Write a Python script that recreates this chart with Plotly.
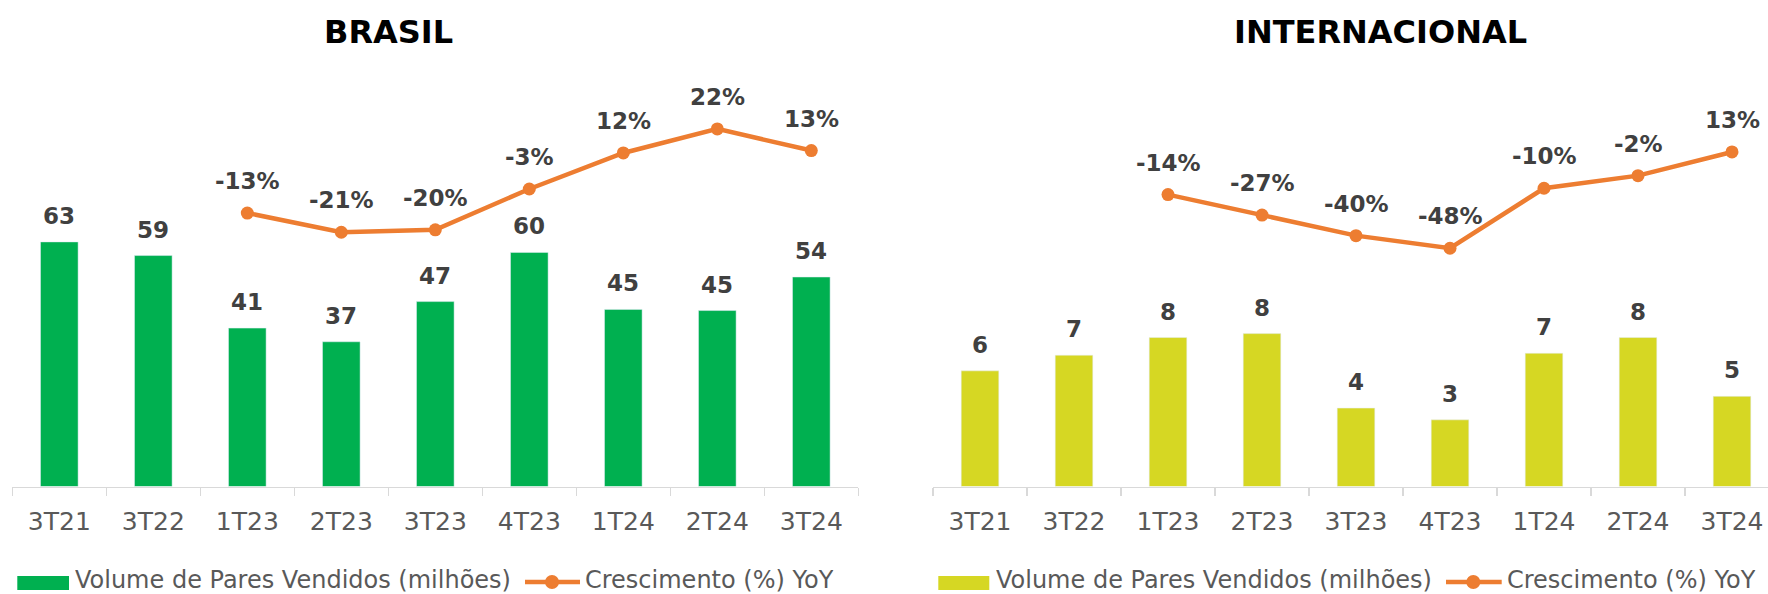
import plotly.graph_objects as go

# ---- data ----
categories = ["3T21", "3T22", "1T23", "2T23", "3T23", "4T23", "1T24", "2T24", "3T24"]
brasil_volume = [62.7, 59.2, 40.6, 37.1, 47.4, 60.0, 45.4, 45.1, 53.7]
brasil_growth = [None, None, -13, -21, -20, -3, 12, 22, 13]
intl_volume = [5.9, 6.7, 7.6, 7.8, 4.0, 3.4, 6.8, 7.6, 4.6]
intl_growth = [None, None, -14, -27, -40, -48, -10, -2, 13]
titles = ["BRASIL", "INTERNACIONAL"]
legend_bar = "Volume de Pares Vendidos (milhões)"
legend_line = "Crescimento (%) YoY"

# ---- styles ----
W, H = 1768, 594
FONT = "Verdana, DejaVu Sans, sans-serif"
GREEN = "#00B050"
LIME = "#D6D723"
ORANGE = "#ED7D31"
LABEL = "#404040"
TICK = "#595959"
AXIS = "#D9D9D9"

def px(x):
    return x / W

def py(y):
    return 1 - y / H

y_dom = [py(486.5), py(80)]

fig = go.Figure()

fig.add_trace(go.Bar(x=categories, y=brasil_volume, marker_color=GREEN, width=0.4,
                     xaxis="x", yaxis="y", showlegend=False, hoverinfo="skip"))
fig.add_trace(go.Scatter(x=categories, y=brasil_growth, mode="lines+markers",
                         line=dict(color=ORANGE, width=4.5), marker=dict(size=13, color=ORANGE),
                         xaxis="x", yaxis="y2", showlegend=False, hoverinfo="skip"))
fig.add_trace(go.Bar(x=categories, y=intl_volume, marker_color=LIME, width=0.4,
                     xaxis="x2", yaxis="y3", showlegend=False, hoverinfo="skip"))
fig.add_trace(go.Scatter(x=categories, y=intl_growth, mode="lines+markers",
                         line=dict(color=ORANGE, width=4.5), marker=dict(size=13, color=ORANGE),
                         xaxis="x2", yaxis="y4", showlegend=False, hoverinfo="skip"))

xcommon = dict(type="category", showline=True, linecolor=AXIS, linewidth=1.5,
               ticks="outside", tickson="boundaries", ticklen=8, tickcolor=AXIS, tickwidth=1.5,
               tickfont=dict(family=FONT, size=25, color=TICK), ticklabelstandoff=12,
               showgrid=False, zeroline=False, fixedrange=True)
ycommon = dict(visible=False, showgrid=False, zeroline=False, fixedrange=True)

fig.update_layout(
    width=W, height=H,
    margin=dict(l=0, r=0, t=0, b=0),
    paper_bgcolor="white", plot_bgcolor="white",
    showlegend=False,
    xaxis=dict(domain=[px(12.3), px(858.3)], range=[-0.5, 8.5], anchor="y", **xcommon),
    yaxis=dict(domain=y_dom, range=[0, 104.2], anchor="x", **ycommon),
    yaxis2=dict(domain=y_dom, range=[-126.8, 42.36], overlaying="y", anchor="x", **ycommon),
    xaxis2=dict(domain=[px(933), 1], range=[-0.5, 8.383], anchor="y3", **xcommon),
    yaxis3=dict(domain=y_dom, range=[0, 20.74], anchor="x2", **ycommon),
    yaxis4=dict(domain=y_dom, range=[-198.9, 58.58], overlaying="y3", anchor="x2", **ycommon),
)

ann = []
# data labels
for xr, yb, yl, vols, grs in [("x", "y", "y2", brasil_volume, brasil_growth),
                              ("x2", "y3", "y4", intl_volume, intl_growth)]:
    for c, v in zip(categories, vols):
        ann.append(dict(x=c, y=v, xref=xr, yref=yb, text=f"{v:.0f}", showarrow=False,
                        yanchor="middle", yshift=26,
                        font=dict(family=FONT, size=23, color=LABEL, weight="bold")))
    for c, g in zip(categories, grs):
        if g is None:
            continue
        ann.append(dict(x=c, y=g, xref=xr, yref=yl, text=f"{g:.0f}%", showarrow=False,
                        yanchor="middle", yshift=32,
                        font=dict(family=FONT, size=23, color=LABEL, weight="bold")))

# titles
for t, cx in zip(titles, [388, 1380]):
    ann.append(dict(x=px(cx), y=py(32), xref="paper", yref="paper", text=t, showarrow=False,
                    xanchor="center", yanchor="middle",
                    font=dict(family=FONT, size=32, color="black", weight="bold")))

# manual legends
shapes = []
for sw0, sw1, swc, ln0, ln1, mc, t1, t2 in [
        (17.3, 69, GREEN, 525, 580, 552, 74, 584),
        (938.3, 989.3, LIME, 1446, 1501.7, 1473.3, 995, 1506)]:
    shapes.append(dict(type="rect", xref="paper", yref="paper",
                       x0=px(sw0), x1=px(sw1), y0=py(590), y1=py(576),
                       fillcolor=swc, line=dict(width=0)))
    shapes.append(dict(type="line", xref="paper", yref="paper",
                       x0=px(ln0), x1=px(ln1), y0=py(582), y1=py(582),
                       line=dict(color=ORANGE, width=4.5)))
    shapes.append(dict(type="circle", xref="paper", yref="paper",
                       x0=px(mc - 7), x1=px(mc + 7), y0=py(589), y1=py(575),
                       fillcolor=ORANGE, line=dict(width=0)))
    for tx, txt in [(t1, legend_bar), (t2, legend_line)]:
        ann.append(dict(x=px(tx), y=py(580), xref="paper", yref="paper", text=txt,
                        showarrow=False, xanchor="left", yanchor="middle",
                        borderpad=0, height=24,
                        font=dict(family=FONT, size=24, color=TICK)))

fig.update_layout(annotations=ann, shapes=shapes)

fig.write_html(
    "out.html",
    config={"displayModeBar": False, "staticPlot": True},
    post_script="document.body.style.margin='0';document.body.style.overflow='hidden';",
)
